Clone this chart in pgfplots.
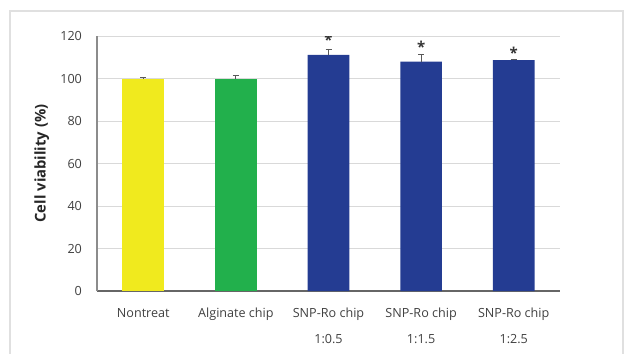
\documentclass[border=0pt]{standalone}
\usepackage{pgfplots}
\pgfplotsset{compat=1.18}
\usepackage{fontspec}
\setmainfont{Open Sans}
\definecolor{cyel}{RGB}{240,234,30}
\definecolor{cgrn}{RGB}{34,176,76}
\definecolor{cblu}{RGB}{36,60,146}
\definecolor{txt}{RGB}{64,64,64}
\begin{document}
\begin{tikzpicture}
\path[use as bounding box] (-48.5pt,-31.5pt) rectangle (266.5pt,145.5pt);
\draw[black!12, line width=0.8pt] (-43.5pt,-31.5pt) -- (-43.5pt,140pt) -- (263pt,140pt) -- (263pt,-31.5pt);
\begin{axis}[
  at={(0pt,0pt)}, anchor=south west,
  scale only axis, width=231.5pt, height=127.5pt,
  xmin=-0.5, xmax=4.5, ymin=0, ymax=120,
  ytick={0,20,...,120},
  xtick={0,1,2,3,4},
  xticklabels={Nontreat, Alginate chip, SNP-Ro chip\\[5.2pt]1:0.5, SNP-Ro chip\\[5.2pt]1:1.5, SNP-Ro chip\\[5.2pt]1:2.5},
  xticklabel style={align=center, font=\fontsize{6.3}{7.5}\selectfont, text=txt, yshift=-5pt},
  yticklabel style={font=\fontsize{6.3}{7.5}\selectfont, text=txt, xshift=-4pt},
  /pgf/number format/assume math mode=true,
  major tick length=0pt,
  axis x line*=bottom, axis y line*=left,
  x axis line style={black!60, line width=0.8pt, -},
  y axis line style={black!45, line width=0.6pt, -},
  ymajorgrids, grid style={black!15, line width=0.5pt},
  ylabel={Cell viability (\%)},
  every axis y label/.style={at={(axis description cs:-0.119,0.5)}, rotate=90, anchor=center, font=\bfseries\fontsize{7.4}{8.5}\selectfont, text=black!85},
  ybar, bar width=0.45, bar shift=0pt,
  error bars/y dir=plus, error bars/y explicit,
  error bars/error bar style={black!65, line width=0.5pt},
  error bars/error mark options={rotate=90, mark size=1.5pt, black!65},
]
\addplot[fill=cyel, draw=none] coordinates {(0,100) +- (0,0.3)};
\addplot[fill=cgrn, draw=none] coordinates {(1,100) +- (0,1.5)};
\addplot[fill=cblu, draw=none] coordinates {(2,111.1) +- (0,2.8) (3,108) +- (0,3.4) (4,108.7) +- (0,0.5)};
\node[font=\bfseries\fontsize{7.5}{8}\selectfont, text=black!80] at (axis cs:2,118) {*};
\node[font=\bfseries\fontsize{7.5}{8}\selectfont, text=black!80] at (axis cs:3,115) {*};
\node[font=\bfseries\fontsize{7.5}{8}\selectfont, text=black!80] at (axis cs:4,112.3) {*};
\end{axis}
\end{tikzpicture}
\end{document}
